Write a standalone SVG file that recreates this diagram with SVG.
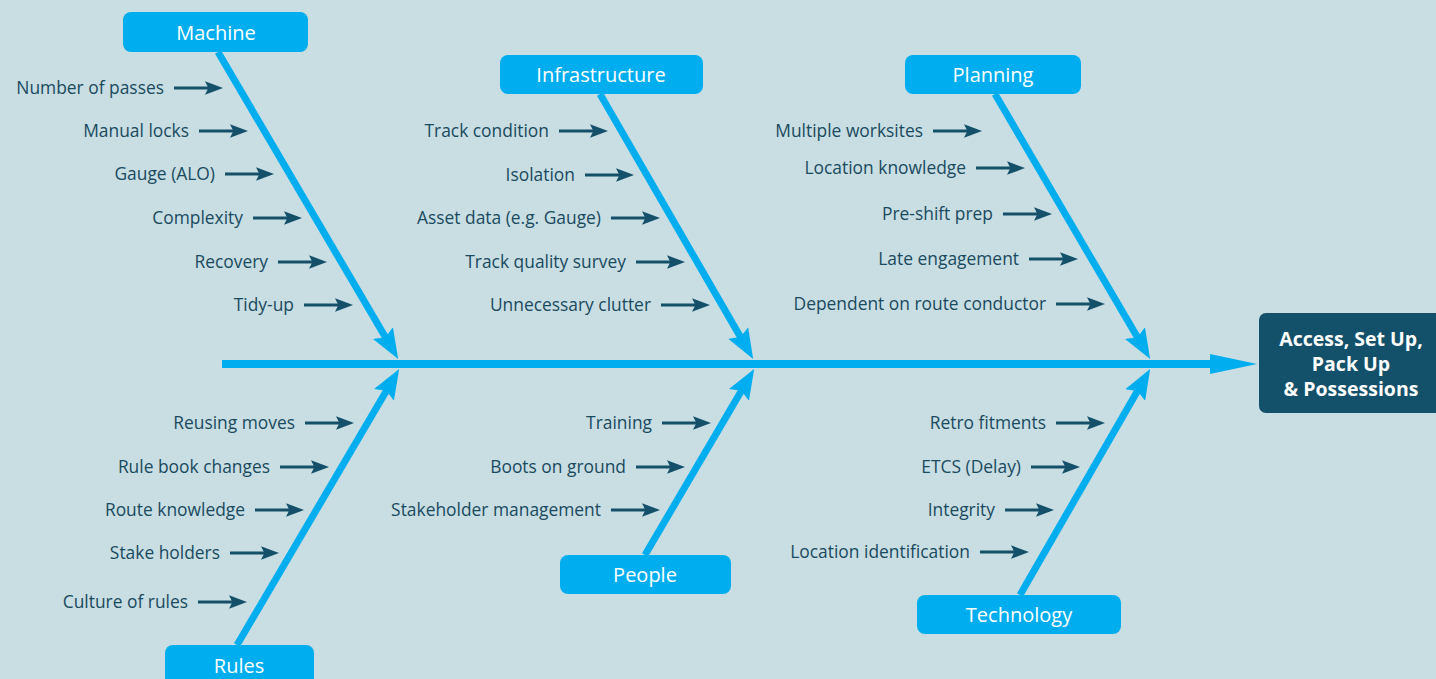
<svg xmlns="http://www.w3.org/2000/svg" width="1436" height="679" viewBox="0 0 1436 679">
<defs>
<style>
.bg{fill:#c8dee3}
.box{fill:#00aeef}
.lbl{font-family:"Open Sans","Liberation Sans",sans-serif;font-size:20px;fill:#fff;text-anchor:middle}
.item{font-family:"Open Sans","Liberation Sans",sans-serif;font-size:17.4px;fill:#1a4a5e;text-anchor:end}
.bone{stroke:#00aeef;stroke-width:7;fill:none;marker-end:url(#big)}
.sm{stroke:#14506a;stroke-width:3;fill:none;marker-end:url(#small)}
.head{fill:#13506a}
.htxt{font-family:"Open Sans","Liberation Sans",sans-serif;font-size:19.5px;font-weight:bold;fill:#fff;text-anchor:middle}
</style>
<marker id="big" markerUnits="userSpaceOnUse" markerWidth="30" markerHeight="24" refX="11" refY="10" orient="auto" viewBox="0 0 26 20">
<path d="M0,0 L26,10 L0,20 L4,10 z" fill="#00aeef"/>
</marker>
<marker id="small" markerUnits="userSpaceOnUse" markerWidth="18" markerHeight="14" refX="8" refY="6" orient="auto" viewBox="0 0 16 12">
<path d="M0,0 L16,6 L0,12 L3,6 z" fill="#14506a"/>
</marker>
</defs>
<rect class="bg" x="0" y="0" width="1436" height="679"/>

<g id="connectors">
<line x1="222" y1="364" x2="1214" y2="364" stroke="#00aeef" stroke-width="8"/>
<polygon points="1210,354 1257,364 1210,374" fill="#00aeef"/>
<line class="bone" x1="218" y1="52" x2="389.4" y2="344.1"/>
<line class="bone" x1="600" y1="94" x2="744.5" y2="344"/>
<line class="bone" x1="995" y1="94" x2="1141.4" y2="344.1"/>
<line class="bone" x1="237" y1="645" x2="390.4" y2="383.9"/>
<line class="bone" x1="645" y1="555" x2="745.4" y2="383.9"/>
<line class="bone" x1="1020" y1="595" x2="1141.5" y2="384"/>

<line class="sm" x1="174" y1="88" x2="214" y2="88"/>
<line class="sm" x1="199" y1="131" x2="239" y2="131"/>
<line class="sm" x1="225" y1="174" x2="265" y2="174"/>
<line class="sm" x1="253" y1="218" x2="293" y2="218"/>
<line class="sm" x1="278" y1="262" x2="318" y2="262"/>
<line class="sm" x1="304" y1="305" x2="344" y2="305"/>

<line class="sm" x1="559" y1="131" x2="599" y2="131"/>
<line class="sm" x1="585" y1="175" x2="625" y2="175"/>
<line class="sm" x1="611" y1="218" x2="651" y2="218"/>
<line class="sm" x1="636" y1="262" x2="676" y2="262"/>
<line class="sm" x1="661" y1="305" x2="701" y2="305"/>

<line class="sm" x1="933" y1="131" x2="973" y2="131"/>
<line class="sm" x1="976" y1="168" x2="1016" y2="168"/>
<line class="sm" x1="1003" y1="214" x2="1043" y2="214"/>
<line class="sm" x1="1029" y1="259" x2="1069" y2="259"/>
<line class="sm" x1="1056" y1="304" x2="1096" y2="304"/>

<line class="sm" x1="305" y1="423" x2="345" y2="423"/>
<line class="sm" x1="280" y1="467" x2="320" y2="467"/>
<line class="sm" x1="255" y1="510" x2="295" y2="510"/>
<line class="sm" x1="230" y1="553" x2="270" y2="553"/>
<line class="sm" x1="198" y1="602" x2="238" y2="602"/>

<line class="sm" x1="662" y1="423" x2="702" y2="423"/>
<line class="sm" x1="636" y1="467" x2="676" y2="467"/>
<line class="sm" x1="611" y1="510" x2="651" y2="510"/>

<line class="sm" x1="1056" y1="423" x2="1096" y2="423"/>
<line class="sm" x1="1031" y1="467" x2="1071" y2="467"/>
<line class="sm" x1="1005" y1="510" x2="1045" y2="510"/>
<line class="sm" x1="980" y1="552" x2="1020" y2="552"/>
</g>

<g id="machine">
<rect class="box" x="123" y="12" width="185" height="40" rx="8"/>
<text class="lbl" x="216" y="40">Machine</text>
<text class="item" x="164" y="94">Number of passes</text>
<text class="item" x="189" y="137">Manual locks</text>
<text class="item" x="215" y="180">Gauge (ALO)</text>
<text class="item" x="243" y="224">Complexity</text>
<text class="item" x="268" y="268">Recovery</text>
<text class="item" x="294" y="311">Tidy-up</text>
</g>

<g id="infrastructure">
<rect class="box" x="500" y="55" width="203" height="39" rx="8"/>
<text class="lbl" x="601" y="82">Infrastructure</text>
<text class="item" x="549" y="137">Track condition</text>
<text class="item" x="575" y="181">Isolation</text>
<text class="item" x="601" y="224">Asset data (e.g. Gauge)</text>
<text class="item" x="626" y="268">Track quality survey</text>
<text class="item" x="651" y="311">Unnecessary clutter</text>
</g>

<g id="planning">
<rect class="box" x="905" y="55" width="176" height="39" rx="8"/>
<text class="lbl" x="993" y="82">Planning</text>
<text class="item" x="923" y="137">Multiple worksites</text>
<text class="item" x="966" y="174">Location knowledge</text>
<text class="item" x="993" y="220">Pre-shift prep</text>
<text class="item" x="1019" y="265">Late engagement</text>
<text class="item" x="1046" y="310">Dependent on route conductor</text>
</g>

<g id="rules">
<rect class="box" x="165" y="645" width="149" height="44" rx="8"/>
<text class="lbl" x="239" y="673">Rules</text>
<text class="item" x="295" y="429">Reusing moves</text>
<text class="item" x="270" y="473">Rule book changes</text>
<text class="item" x="245" y="516">Route knowledge</text>
<text class="item" x="220" y="559">Stake holders</text>
<text class="item" x="188" y="608">Culture of rules</text>
</g>

<g id="people">
<rect class="box" x="560" y="555" width="171" height="39" rx="8"/>
<text class="lbl" x="645" y="582">People</text>
<text class="item" x="652" y="429">Training</text>
<text class="item" x="626" y="473">Boots on ground</text>
<text class="item" x="601" y="516">Stakeholder management</text>
</g>

<g id="technology">
<rect class="box" x="917" y="595" width="204" height="39" rx="8"/>
<text class="lbl" x="1019" y="622">Technology</text>
<text class="item" x="1046" y="429">Retro fitments</text>
<text class="item" x="1021" y="473">ETCS (Delay)</text>
<text class="item" x="995" y="516">Integrity</text>
<text class="item" x="970" y="558">Location identification</text>
</g>

<g id="effect">
<rect class="head" x="1259" y="313" width="190" height="100" rx="7"/>
<text class="htxt" x="1351" y="346">Access, Set Up,</text>
<text class="htxt" x="1351" y="371">Pack Up</text>
<text class="htxt" x="1351" y="396">&amp; Possessions</text>
</g>
</svg>
